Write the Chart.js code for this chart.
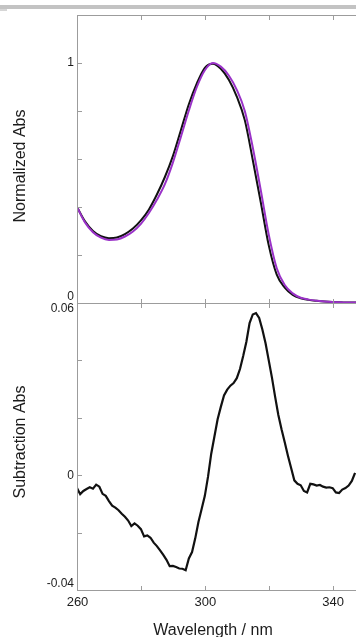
<!DOCTYPE html>
<html>
<head>
<meta charset="utf-8">
<script src="https://cdn.jsdelivr.net/npm/chart.js@4.4.0/dist/chart.umd.min.js"></script>
<style>
  html, body { margin: 0; padding: 0; background: #fff; }
  #page { position: relative; width: 356px; height: 637px; overflow: hidden; background: #fff; }
  #band { position: absolute; left: 0; top: 5px; width: 356px; height: 4px; background: #c3c3c3; }
  #bandTail { position: absolute; left: 0; top: 9px; width: 7px; height: 2px; background: #d6d6d6; }
  canvas { position: absolute; left: 0; top: 0; }
</style>
</head>
<body>
<div id="page">
  <div id="band"></div>
  <div id="bandTail"></div>
  <canvas id="absChart" width="356" height="637"></canvas>
  <canvas id="subChart" width="356" height="637"></canvas>
</div>
<script>
// wavelength grid (nm) for the normalized spectra
const absWavelengths = [260, 262.5, 265, 267.5, 270, 272.5, 275, 277.5, 280, 282.5, 285, 287.5,
  290, 292.5, 295, 297.5, 300, 302.5, 305, 307.5, 310, 312.5, 315, 317.5,
  320, 322.5, 325, 327.5, 330, 332.5, 335, 337.5, 340, 342.5, 345, 347.5];

// normalized absorbance, black trace
const absBlack = [0.400, 0.340, 0.300, 0.278, 0.270, 0.273, 0.287, 0.310, 0.344, 0.390, 0.452, 0.525,
  0.612, 0.720, 0.828, 0.915, 0.980, 0.997, 0.976, 0.930, 0.860, 0.762, 0.596, 0.420,
  0.240, 0.118, 0.064, 0.034, 0.020, 0.013, 0.009, 0.006, 0.004, 0.003, 0.002, 0.002];

// normalized absorbance, purple trace
const absPurple = [0.400, 0.336, 0.295, 0.272, 0.263, 0.265, 0.277, 0.298, 0.330, 0.375, 0.430, 0.495,
  0.585, 0.692, 0.802, 0.900, 0.970, 1.000, 0.985, 0.948, 0.888, 0.800, 0.648, 0.470,
  0.285, 0.145, 0.075, 0.040, 0.022, 0.014, 0.009, 0.006, 0.004, 0.003, 0.002, 0.002];

// difference spectrum, 1 nm steps from 260 to 347
const subWavelengths = [];
for (let w = 260; w <= 347; w++) subWavelengths.push(w);
const subValues = [
  -0.0045, -0.0066, -0.0055, -0.0048, -0.0042, -0.0047, -0.0033, -0.0040, -0.0065, -0.0072,
  -0.0090, -0.0106, -0.0113, -0.0122, -0.0134, -0.0145, -0.0158, -0.0177, -0.0168, -0.0176,
  -0.0188, -0.0213, -0.0210, -0.0218, -0.0235, -0.0247, -0.0262, -0.0278, -0.0295, -0.0317,
  -0.0316, -0.0320, -0.0325, -0.0326, -0.0331, -0.0290, -0.0268, -0.0220, -0.0163, -0.0118,
  -0.0072, -0.0005, 0.0075, 0.0135, 0.0195, 0.0238, 0.0278, 0.0298, 0.0312, 0.0321,
  0.0338, 0.0370, 0.0415, 0.0465, 0.0530, 0.0560, 0.0565, 0.0548, 0.0508, 0.0460,
  0.0400, 0.0340, 0.0273, 0.0210, 0.0160, 0.0115, 0.0068, 0.0025, -0.0018, -0.0030,
  -0.0035, -0.0055, -0.0060, -0.0030, -0.0032, -0.0036, -0.0034, -0.0040, -0.0043, -0.0042,
  -0.0045, -0.0060, -0.0062, -0.0050, -0.0045, -0.0036, -0.0020, 0.0008];

// axis ticks and labels
const xMin = 260, xMax = 347.3;
const xTicks = [260, 280, 300, 320, 340];
const xTickLabels = ['260', '', '300', '', '340'];
const absTicks = [0, 0.2, 0.4, 0.6, 0.8, 1, 1.2];
const absTickLabels = ['0', '', '', '', '', '1', ''];
const subTicks = [-0.04, -0.02, 0, 0.02, 0.04, 0.06];
const subTickLabels = ['-0.04', '', '0', '', '', '0.06'];

const axisColor = '#9c9c9c';
const textColor = '#1c1c1c';
const fontFamily = '"Liberation Sans", Arial, sans-serif';

function pairs(xs, ys) {
  return xs.map((x, i) => ({ x: x, y: ys[i] }));
}

// frame, inward ticks and text for one panel
function framePlugin(opts) {
  return {
    id: 'frame',
    afterDraw(chart) {
      const ctx = chart.ctx;
      const a = chart.chartArea;
      const xs = chart.scales.x, ys = chart.scales.y;
      ctx.save();
      ctx.strokeStyle = axisColor;
      ctx.lineWidth = 1;
      ctx.beginPath();
      // left axis
      ctx.moveTo(a.left + 0.5, a.top);
      ctx.lineTo(a.left + 0.5, a.bottom);
      // top and bottom lines
      ctx.moveTo(a.left, Math.round(a.top) + 0.5);
      ctx.lineTo(a.right, Math.round(a.top) + 0.5);
      ctx.moveTo(a.left, Math.round(a.bottom) + 0.5);
      ctx.lineTo(a.right, Math.round(a.bottom) + 0.5);
      // x ticks pointing inward
      xTicks.forEach(v => {
        if (v === xMin) return;
        const px = Math.round(xs.getPixelForValue(v)) + 0.5;
        ctx.moveTo(px, a.top);
        ctx.lineTo(px, a.top + 5);
        ctx.moveTo(px, a.bottom);
        ctx.lineTo(px, a.bottom - 4);
      });
      // y ticks pointing inward
      opts.yTicks.forEach(v => {
        const py = Math.round(ys.getPixelForValue(v)) + 0.5;
        ctx.moveTo(a.left, py);
        ctx.lineTo(a.left + 5, py);
      });
      ctx.stroke();

      ctx.fillStyle = textColor;
      ctx.font = '12px ' + fontFamily;
      ctx.textAlign = 'right';
      ctx.textBaseline = 'middle';
      opts.yTicks.forEach((v, i) => {
        const label = opts.yLabels[i];
        if (!label) return;
        let py = ys.getPixelForValue(v);
        if (Math.abs(py - a.top) < 1) py += 6;
        if (Math.abs(py - a.bottom) < 1) py -= 6;
        ctx.fillText(label, a.left - 3, py);
      });

      if (opts.xLabels) {
        ctx.font = '13px ' + fontFamily;
        ctx.textAlign = 'center';
        xTicks.forEach((v, i) => {
          if (!xTickLabels[i]) return;
          ctx.fillText(xTickLabels[i], xs.getPixelForValue(v) + 0.5, a.bottom + 12);
        });
        ctx.font = '16px ' + fontFamily;
        ctx.textBaseline = 'alphabetic';
        ctx.fillText('Wavelength / nm', 213, 635);
      }

      // rotated axis title
      ctx.font = '16px ' + fontFamily;
      ctx.textAlign = 'center';
      ctx.textBaseline = 'alphabetic';
      ctx.translate(25, opts.titleY);
      ctx.rotate(-Math.PI / 2);
      ctx.fillText(opts.title, 0, 0);
      ctx.restore();
    }
  };
}

const hiddenScale = (min, max) => ({ type: 'linear', min: min, max: max, display: false });

new Chart(document.getElementById('absChart'), {
  type: 'line',
  data: {
    datasets: [
      {
        label: 'purple',
        data: pairs(absWavelengths, absPurple),
        borderColor: '#9a32c8',
        borderWidth: 2,
        pointRadius: 0,
        cubicInterpolationMode: 'monotone',
        order: 0
      },
      {
        label: 'black',
        data: pairs(absWavelengths, absBlack),
        borderColor: '#111111',
        borderWidth: 2,
        pointRadius: 0,
        cubicInterpolationMode: 'monotone',
        order: 1
      }
    ]
  },
  options: {
    responsive: false,
    animation: false,
    events: [],
    layout: { padding: { left: 77, top: 15, right: 0, bottom: 637 - 303 } },
    scales: { x: hiddenScale(xMin, xMax), y: hiddenScale(0, 1.2) },
    plugins: { legend: { display: false }, tooltip: { enabled: false } }
  },
  plugins: [framePlugin({ yTicks: absTicks, yLabels: absTickLabels, title: 'Normalized Abs', titleY: 166, xLabels: false })]
});

new Chart(document.getElementById('subChart'), {
  type: 'line',
  data: {
    datasets: [{
      label: 'subtraction',
      data: pairs(subWavelengths, subValues),
      borderColor: '#111111',
      borderWidth: 2.2,
      pointRadius: 0,
      tension: 0
    }]
  },
  options: {
    responsive: false,
    animation: false,
    events: [],
    layout: { padding: { left: 77, top: 303, right: 0, bottom: 637 - 590 } },
    scales: { x: hiddenScale(xMin, xMax), y: hiddenScale(-0.04, 0.06) },
    plugins: { legend: { display: false }, tooltip: { enabled: false } }
  },
  plugins: [framePlugin({ yTicks: subTicks, yLabels: subTickLabels, title: 'Subtraction Abs', titleY: 442, xLabels: true })]
});
</script>
</body>
</html>
